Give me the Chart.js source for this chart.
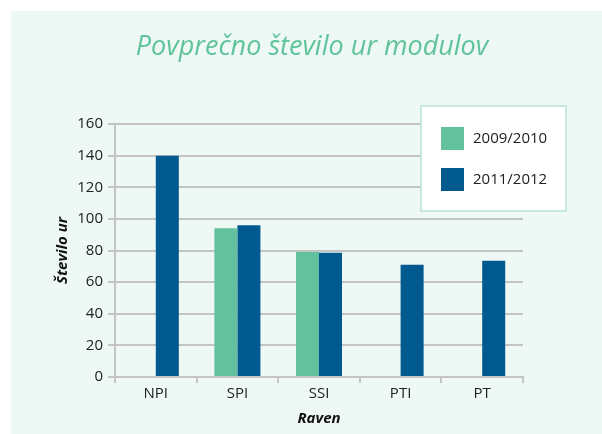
<!DOCTYPE html>
<html>
<head>
<meta charset="utf-8">
<script src="https://cdn.jsdelivr.net/npm/chart.js@4"></script>
<style>
  html, body { margin: 0; padding: 0; background: #ffffff; }
  #wrap { width: 602px; height: 434px; }
</style>
</head>
<body>
<div id="wrap"><canvas id="hoursChart" width="602" height="434"></canvas></div>
<script>
const chartTitle = "Povprečno število ur modulov";
const levels = ["NPI", "SPI", "SSI", "PTI", "PT"];
const seriesNames = ["2009/2010", "2011/2012"];
const hours0910 = [null, 94, 79, null, null];
const hours1112 = [140, 96, 78.5, 71, 73.5];
const yTicks = [0, 20, 40, 60, 80, 100, 120, 140, 160];

const GREEN = "#63c29d";
const BLUE = "#005a8f";
const FONT = "'Open Sans', 'Noto Sans', sans-serif";

// background panel, title and the boxed legend over the plot
const framePlugin = {
  id: "frame",
  beforeDraw(chart) {
    const ctx = chart.ctx;
    ctx.save();
    ctx.fillStyle = "#eef8f5";
    ctx.fillRect(11, 11, chart.width - 11, chart.height - 11);
    ctx.fillStyle = "#5fc39b";
    ctx.font = "italic 400 27px " + FONT;
    ctx.textAlign = "center";
    ctx.textBaseline = "middle";
    ctx.fillText(chartTitle, 312, 47);
    ctx.restore();
  },
  afterDatasetsDraw(chart) {
    const ctx = chart.ctx;
    ctx.save();
    ctx.fillStyle = "#ffffff";
    ctx.fillRect(421, 106, 145, 105);
    ctx.strokeStyle = "#b7e4d3";
    ctx.lineWidth = 1.5;
    ctx.strokeRect(421, 106, 145, 105);
    ctx.font = "15px " + FONT;
    ctx.textBaseline = "middle";
    ctx.textAlign = "left";
    chart.data.datasets.forEach((ds, i) => {
      const y = 127 + i * 41;
      ctx.fillStyle = ds.backgroundColor;
      ctx.fillRect(441, y, 23, 23);
      ctx.fillStyle = "#222222";
      ctx.fillText(ds.label, 473, y + 12);
    });
    ctx.restore();
  }
};

new Chart(document.getElementById("hoursChart"), {
  type: "bar",
  data: {
    labels: levels,
    datasets: [
      { label: seriesNames[0], data: hours0910, backgroundColor: GREEN },
      { label: seriesNames[1], data: hours1112, backgroundColor: BLUE }
    ]
  },
  options: {
    responsive: false,
    animation: false,
    devicePixelRatio: 1,
    layout: { padding: { top: 124, right: 79, bottom: 0, left: 0 } },
    datasets: { bar: { categoryPercentage: 0.564, barPercentage: 1 } },
    scales: {
      x: {
        afterFit: (scale) => { scale.height = 57; },
        grid: { display: true, drawOnChartArea: false, color: "#c4c4c4", lineWidth: 2, tickLength: 6 },
        border: { color: "#c4c4c4", width: 2 },
        ticks: { color: "#222222", font: { family: FONT, size: 15 }, padding: 2 },
        title: {
          display: true,
          text: "Raven",
          color: "#111111",
          font: { family: FONT, size: 15, style: "italic", weight: "bold" },
          padding: { top: 0, bottom: 6 }
        }
      },
      y: {
        min: 0,
        max: 160,
        afterFit: (scale) => { scale.width = 115; },
        afterBuildTicks: (scale) => { scale.ticks = yTicks.map((v) => ({ value: v })); },
        grid: { color: "#c4c4c4", lineWidth: 2, tickLength: 7 },
        border: { color: "#c4c4c4", width: 2 },
        ticks: { color: "#222222", font: { family: FONT, size: 15 }, padding: 5 },
        title: {
          display: true,
          text: "Število ur",
          color: "#111111",
          font: { family: FONT, size: 15, style: "italic", weight: "bold" },
          padding: { top: 54, bottom: 0 }
        }
      }
    },
    plugins: {
      legend: { display: false },
      title: { display: false },
      tooltip: { enabled: false }
    }
  },
  plugins: [framePlugin]
});
</script>
</body>
</html>
